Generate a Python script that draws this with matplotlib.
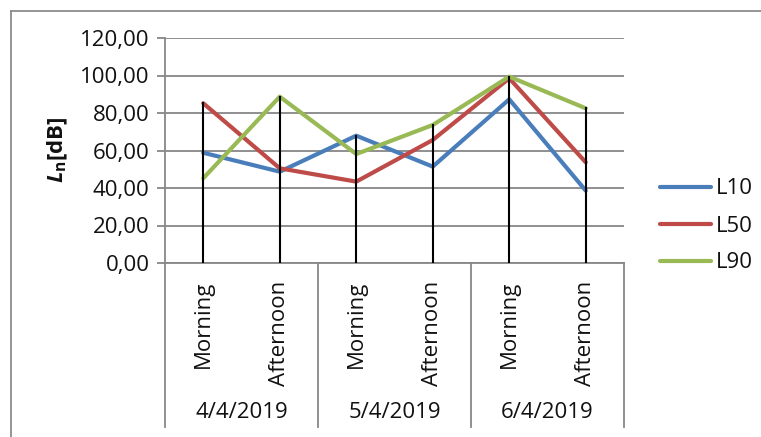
import matplotlib
matplotlib.use("Agg")
import matplotlib.pyplot as plt
from matplotlib.lines import Line2D
import matplotlib.transforms as mtransforms

plt.rcParams['font.family'] = ['Open Sans', 'DejaVu Sans']
plt.rcParams['mathtext.fontset'] = 'custom'
plt.rcParams['mathtext.it'] = 'Open Sans:italic:bold'
plt.rcParams['mathtext.rm'] = 'Open Sans:bold'
plt.rcParams['mathtext.bf'] = 'Open Sans:bold'

# Data
dates = ["4/4/2019", "5/4/2019", "6/4/2019"]
periods = ["Morning", "Afternoon"]
L10 = [58.8, 48.7, 67.9, 51.4, 87.3, 38.6]
L50 = [85.2, 50.5, 43.4, 65.6, 98.5, 53.7]
L90 = [45.2, 88.7, 58.1, 73.6, 99.4, 82.5]
y_ticks = [0, 20, 40, 60, 80, 100, 120]

series = [("L10", L10, "#4A7EBB"), ("L50", L50, "#BE4B48"), ("L90", L90, "#98B954")]

W, H = 761, 437
fig = plt.figure(figsize=(W / 100, H / 100), dpi=100)

def fx(px):
    return px / W

def fy(py):
    return 1 - py / H

FS = 16
TXT = "#111111"

# outer chart-area border
border = "#8C8C8C"
fig.add_artist(Line2D([fx(10.5), fx(10.5)], [fy(11), fy(H + 5)], color=border, lw=1.3))
fig.add_artist(Line2D([fx(10.5), fx(W + 5)], [fy(11), fy(11)], color=border, lw=1.3))

left, right, top, bottom = 165, 624, 38, 263
ax = fig.add_axes([fx(left), fy(bottom), fx(right - left), fy(top) - fy(bottom)])

n = len(L10)
xs = [i + 0.5 for i in range(n)]
ax.set_xlim(0, n)
ax.set_ylim(0, 120)

grid_c = "#878787"
ax.set_yticks(y_ticks)
ax.set_yticklabels([f"{v:.2f}".replace(".", ",") for v in y_ticks], fontsize=FS, color=TXT)
ax.yaxis.grid(True, color=grid_c, lw=1.3)
ax.set_axisbelow(True)
ax.tick_params(axis="y", length=6, width=1.3, color=grid_c, pad=5)
ax.tick_params(axis="x", length=0, labelbottom=False)
ax.set_xticks([])
for s in ["top", "right"]:
    ax.spines[s].set_visible(False)
ax.spines["left"].set_color(grid_c)
ax.spines["left"].set_linewidth(1.3)
ax.spines["bottom"].set_color(grid_c)
ax.spines["bottom"].set_linewidth(1.3)

for name, vals, col in series:
    ax.plot(xs, vals, color=col, lw=3, label=name, solid_capstyle="round", zorder=3)

# drop lines from the highest series value down to the axis
for x, a, b, c in zip(xs, L10, L50, L90):
    ax.plot([x, x], [0, max(a, b, c)], color="black", lw=1.5, zorder=4)

# multi-level category axis
trans = mtransforms.blended_transform_factory(ax.transData, ax.transAxes)
sep_bottom = -(427 - bottom) / (bottom - top)
for g in range(len(dates) + 1):
    ax.plot([2 * g, 2 * g], [0, sep_bottom], color=grid_c, lw=1.3, transform=trans, clip_on=False)

lab_top = -(281 - bottom) / (bottom - top)
date_y = -(412 - bottom) / (bottom - top)
for i, x in enumerate(xs):
    ax.text(x, lab_top, periods[i % 2], rotation=90, ha="center", va="top",
            fontsize=FS, color=TXT, transform=trans)
for g, d in enumerate(dates):
    ax.text(2 * g + 1, date_y, d, ha="center", va="center", fontsize=FS,
            color=TXT, transform=trans)

fig.text(fx(58), fy(150), r"$L_{\mathrm{n}}$[dB]", rotation=90, ha="center", va="center",
         fontsize=FS, fontweight="bold", color=TXT)

leg = ax.legend(loc="center left", bbox_to_anchor=(fx(649), fy(226)), bbox_transform=fig.transFigure,
                frameon=False, fontsize=FS, handlelength=2.3, handletextpad=0.2,
                labelspacing=0.72, borderpad=0)
for t in leg.get_texts():
    t.set_color(TXT)

fig.savefig("out.png", dpi=100)
